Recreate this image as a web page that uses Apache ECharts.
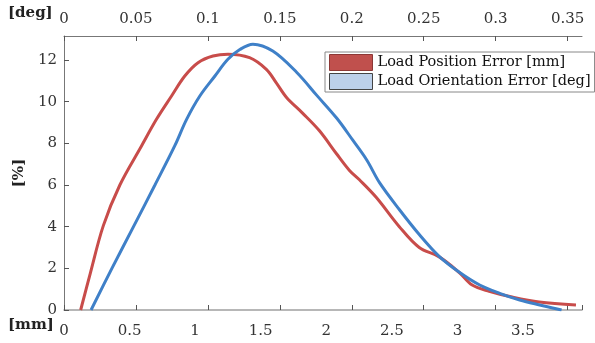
<!DOCTYPE html>
<html>
<head>
<meta charset="utf-8">
<script src="https://cdn.jsdelivr.net/npm/echarts@6/dist/echarts.min.js"></script>
<style>
  html, body { margin: 0; padding: 0; background: #fff; }
  #chart { width: 595px; height: 343px; }
</style>
</head>
<body>
<div id="chart"></div>
<script>
// Load position error, x in mm (bottom axis)
const posMm = [0.127, 0.2, 0.3, 0.426, 0.591, 0.705, 0.82, 0.921, 1.022, 1.136, 1.25, 1.415, 1.543, 1.619, 1.697, 1.819, 1.948, 2.078, 2.177, 2.253, 2.382, 2.557, 2.709, 2.861, 3.014, 3.113, 3.242, 3.417, 3.623, 3.904];
const posPct = [0, 1.75, 4.05, 6, 7.87, 9.15, 10.27, 11.23, 11.87, 12.19, 12.28, 12.11, 11.55, 10.9, 10.2, 9.45, 8.6, 7.5, 6.7, 6.25, 5.4, 4.0, 3.0, 2.55, 1.8, 1.2, 0.9, 0.62, 0.38, 0.24];

// Load orientation error, x in deg (top axis)
const oriDeg = [0.0188, 0.0333, 0.0483, 0.0632, 0.0771, 0.0852, 0.0944, 0.1049, 0.1139, 0.1222, 0.1313, 0.1451, 0.1618, 0.1757, 0.1896, 0.2007, 0.2104, 0.2194, 0.2333, 0.2472, 0.2611, 0.275, 0.2889, 0.3028, 0.3167, 0.3306, 0.3396, 0.3458];
const oriPct = [0, 2, 4, 6, 7.9, 9.15, 10.27, 11.23, 12.03, 12.5, 12.76, 12.43, 11.4, 10.3, 9.2, 8.15, 7.2, 6.1, 4.8, 3.6, 2.55, 1.8, 1.2, 0.8, 0.48, 0.24, 0.1, 0];

const seriesNames = ["Load Position Error [mm]", "Load Orientation Error [deg]"];

const serif = "DejaVu Serif";
const labelStyle = { color: "#333", fontFamily: serif, fontSize: 15 };

const option = {
  animation: false,
  grid: { left: 64, right: 13, top: 36, bottom: 33 },
  legend: {
    left: 325,
    top: 52,
    orient: "vertical",
    icon: "rect",
    itemWidth: 43,
    itemHeight: 16,
    itemGap: 2,
    padding: [2, 4, 2, 4],
    borderColor: "#888",
    borderWidth: 1,
    backgroundColor: "#fff",
    textStyle: { color: "#111", fontFamily: serif, fontSize: 14.5 },
    data: [
      { name: seriesNames[0], itemStyle: { color: "#c0504d", borderColor: "#8c3836", borderWidth: 1 } },
      { name: seriesNames[1], itemStyle: { color: "#bcd0ea", borderColor: "#444", borderWidth: 1 } },
    ],
  },
  xAxis: [
    {
      // mm labels
      type: "value",
      position: "bottom",
      min: 0,
      max: 3.95,
      interval: 0.5,
      axisLine: { lineStyle: { color: "#a0a0a0", width: 1.5 } },
      axisTick: { show: false },
      splitLine: { show: false },
      axisLabel: { ...labelStyle, margin: 14, showMaxLabel: false },
    },
    {
      // deg axis on top
      type: "value",
      position: "top",
      min: 0,
      max: 0.36,
      interval: 0.05,
      axisLine: { lineStyle: { color: "#777", width: 1 } },
      axisTick: { inside: true, length: 5, lineStyle: { color: "#555" } },
      splitLine: { show: false },
      axisLabel: { ...labelStyle, margin: 9, showMaxLabel: false },
    },
    {
      // mirrored ticks at the bottom
      type: "value",
      position: "bottom",
      min: 0,
      max: 0.36,
      interval: 0.05,
      axisLine: { show: false },
      axisTick: { inside: true, length: 5, lineStyle: { color: "#555" } },
      splitLine: { show: false },
      axisLabel: { show: false },
    },
  ],
  yAxis: {
    type: "value",
    min: 0,
    max: 13.15,
    interval: 2,
    axisLine: { show: true, lineStyle: { color: "#777", width: 1 } },
    axisTick: { show: true, inside: true, length: 5, lineStyle: { color: "#555" } },
    splitLine: { show: false },
    axisLabel: { ...labelStyle, margin: 7, showMaxLabel: false },
    name: "[%]",
    nameLocation: "middle",
    nameGap: 34,
    nameRotate: 90,
    nameTextStyle: { color: "#222", fontFamily: serif, fontSize: 15, fontWeight: "bold" },
  },
  graphic: [
    { type: "text", left: 8, top: 6, style: { text: "[deg]", fill: "#222", font: "bold 15px 'DejaVu Serif'" } },
    { type: "text", left: 8, top: 318, style: { text: "[mm]", fill: "#222", font: "bold 15px 'DejaVu Serif'" } },
  ],
  series: [
    {
      name: seriesNames[0],
      type: "line",
      xAxisIndex: 0,
      data: posMm.map((x, i) => [x, posPct[i]]),
      smooth: 0.35,
      showSymbol: false,
      itemStyle: { color: "#c0504d" },
      lineStyle: { color: "#c84c4a", width: 3 },
      z: 2,
    },
    {
      name: seriesNames[1],
      type: "line",
      xAxisIndex: 1,
      data: oriDeg.map((x, i) => [x, oriPct[i]]),
      smooth: 0.35,
      showSymbol: false,
      itemStyle: { color: "#bcd0ea" },
      lineStyle: { color: "#3f80c8", width: 3 },
      z: 3,
    },
  ],
};

const myChart = echarts.init(document.getElementById("chart"));
myChart.setOption(option);
</script>
</body>
</html>
